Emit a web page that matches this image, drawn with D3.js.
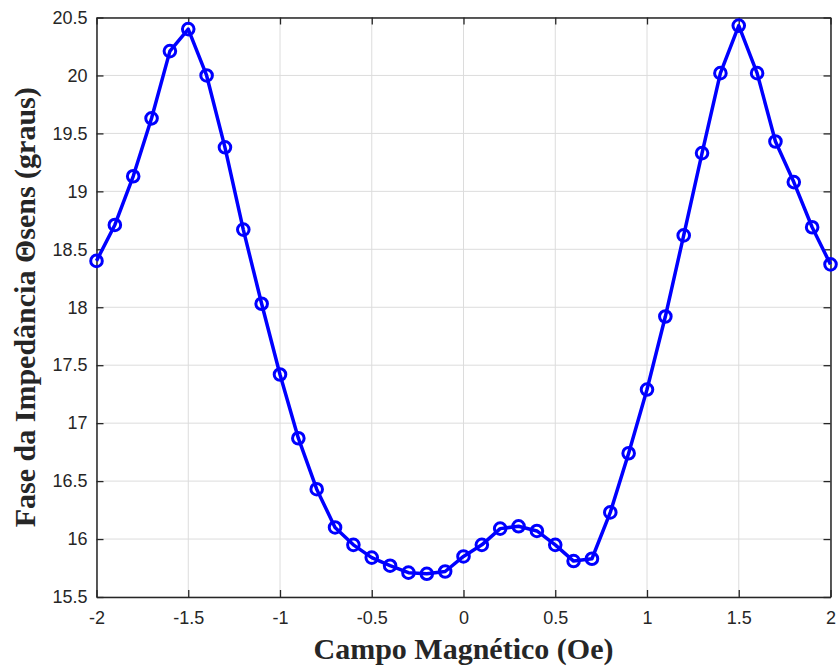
<!DOCTYPE html>
<html>
<head>
<meta charset="utf-8">
<script src="https://cdn.jsdelivr.net/npm/d3@7"></script>
<style>
  body { margin: 0; background: #fff; }
  svg { display: block; }
</style>
</head>
<body>
<svg id="chart"></svg>
<script>
// campo magnetico (Oe)
const campo = [-2, -1.9, -1.8, -1.7, -1.6, -1.5, -1.4, -1.3, -1.2, -1.1, -1.0,
  -0.9, -0.8, -0.7, -0.6, -0.5, -0.4, -0.3, -0.2, -0.1, 0,
  0.1, 0.2, 0.3, 0.4, 0.5, 0.6, 0.7, 0.8, 0.9, 1.0,
  1.1, 1.2, 1.3, 1.4, 1.5, 1.6, 1.7, 1.8, 1.9, 2.0];
// fase da impedancia (graus)
const fase = [18.40, 18.71, 19.13, 19.63, 20.21, 20.40, 20.00, 19.38, 18.67, 18.03, 17.42,
  16.87, 16.43, 16.10, 15.95, 15.84, 15.77, 15.71, 15.70, 15.72, 15.85,
  15.95, 16.09, 16.11, 16.07, 15.95, 15.81, 15.83, 16.23, 16.74, 17.29,
  17.92, 18.62, 19.33, 20.02, 20.43, 20.02, 19.43, 19.08, 18.69, 18.37];
const xTicks = [-2, -1.5, -1, -0.5, 0, 0.5, 1, 1.5, 2];
const yTicks = [15.5, 16, 16.5, 17, 17.5, 18, 18.5, 19, 19.5, 20, 20.5];

const svgWidth = 838, svgHeight = 668;
const margin = { top: 17.5, right: 7.5, bottom: 71, left: 96.5 };
const width = svgWidth - margin.left - margin.right;
const height = svgHeight - margin.top - margin.bottom;

const svg = d3.select("#chart").attr("width", svgWidth).attr("height", svgHeight);
const g = svg.append("g").attr("transform", `translate(${margin.left},${margin.top})`);

const x = d3.scaleLinear().domain([-2, 2]).range([0, width]);
const y = d3.scaleLinear().domain([15.5, 20.5]).range([height, 0]);

const axisColor = "#262626";
const fmt = d => String(d); // plain hyphen minus like matlab

// grid
g.append("g").selectAll("line").data(xTicks).enter().append("line")
  .attr("x1", d => x(d)).attr("x2", d => x(d))
  .attr("y1", 0).attr("y2", height)
  .attr("stroke", "#dcdcdc").attr("stroke-width", 1);
g.append("g").selectAll("line").data(yTicks).enter().append("line")
  .attr("x1", 0).attr("x2", width)
  .attr("y1", d => y(d)).attr("y2", d => y(d))
  .attr("stroke", "#dcdcdc").attr("stroke-width", 1);

// axes (ticks pointing inward, box on all sides)
function styleAxis(sel) {
  sel.select(".domain").attr("stroke", axisColor).attr("stroke-width", 1.5);
  sel.selectAll(".tick line").attr("stroke", axisColor).attr("stroke-width", 1.3);
  sel.selectAll(".tick text").attr("fill", axisColor)
    .style("font-family", "Arial, 'Liberation Sans', sans-serif").style("font-size", "18px");
}

g.append("g").attr("transform", `translate(0,${height})`)
  .call(d3.axisBottom(x).tickValues(xTicks).tickSizeInner(-7).tickSizeOuter(0).tickPadding(14).tickFormat(fmt))
  .call(styleAxis);
g.append("g")
  .call(d3.axisTop(x).tickValues(xTicks).tickSizeInner(-7).tickSizeOuter(0).tickFormat(""))
  .call(styleAxis);
g.append("g")
  .call(d3.axisLeft(y).tickValues(yTicks).tickSizeInner(-7).tickSizeOuter(0).tickPadding(9).tickFormat(fmt))
  .call(styleAxis);
g.append("g").attr("transform", `translate(${width},0)`)
  .call(d3.axisRight(y).tickValues(yTicks).tickSizeInner(-7).tickSizeOuter(0).tickFormat(""))
  .call(styleAxis);

// data line
const pts = campo.map((c, i) => [c, fase[i]]);
const line = d3.line().x(d => x(d[0])).y(d => y(d[1]));

g.append("path").datum(pts)
  .attr("d", line)
  .attr("fill", "none")
  .attr("stroke", "#0000ff")
  .attr("stroke-width", 3.5)
  .attr("stroke-linejoin", "round");

g.append("g").selectAll("circle").data(pts).enter().append("circle")
  .attr("cx", d => x(d[0]))
  .attr("cy", d => y(d[1]))
  .attr("r", 5.8)
  .attr("fill", "none")
  .attr("stroke", "#0000ff")
  .attr("stroke-width", 3);

// labels
svg.append("text")
  .attr("x", margin.left + width / 2)
  .attr("y", 659)
  .attr("text-anchor", "middle")
  .style("font-family", "'Times New Roman', 'Liberation Serif', serif")
  .style("font-weight", "bold")
  .style("font-size", "30px")
  .attr("fill", axisColor)
  .text("Campo Magnético (Oe)");

svg.append("text")
  .attr("transform", `translate(35,${margin.top + height / 2}) rotate(-90)`)
  .attr("text-anchor", "middle")
  .style("font-family", "'Times New Roman', 'Liberation Serif', serif")
  .style("font-weight", "bold")
  .style("font-size", "30px")
  .attr("fill", axisColor)
  .text("Fase da Impedância Θsens (graus)");
</script>
</body>
</html>
